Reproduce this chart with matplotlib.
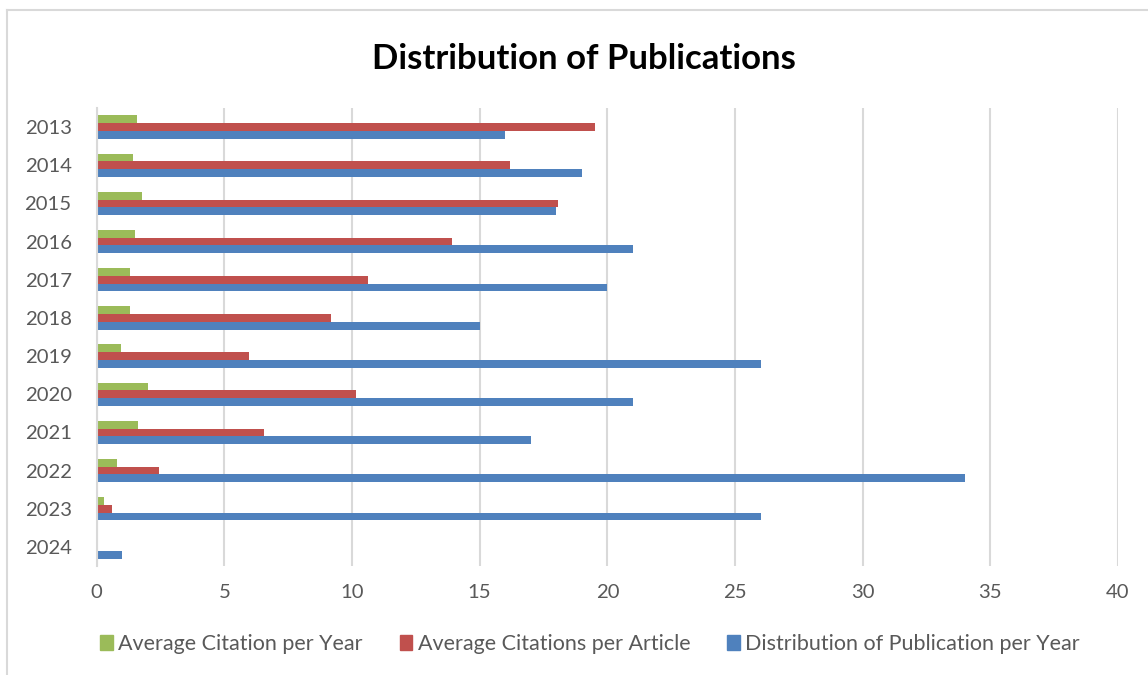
import numpy as np
import matplotlib.pyplot as plt
from matplotlib.patches import Patch
from matplotlib.lines import Line2D

years = ["2013", "2014", "2015", "2016", "2017", "2018",
         "2019", "2020", "2021", "2022", "2023", "2024"]
citation_per_year = [1.59, 1.44, 1.78, 1.51, 1.31, 1.29, 0.97, 2.01, 1.63, 0.78, 0.29, 0]
citations_per_article = [19.51, 16.18, 18.08, 13.91, 10.64, 9.19, 5.95, 10.14, 6.57, 2.44, 0.59, 0]
publications_per_year = [16, 19, 18, 21, 20, 15, 26, 21, 17, 34, 26, 1]

green = "#9BBB59"
red = "#C0504D"
blue = "#4F81BD"
grid_gray = "#D9D9D9"
text_gray = "#595959"

plt.rcParams["font.family"] = ["Lato", "DejaVu Sans"]

fig = plt.figure(figsize=(11.48, 6.75), dpi=100)
ax = fig.add_axes([0.0842, 0.1615, 0.8897, 0.6785])

y = np.arange(len(years))
h = 0.204
ax.barh(y - h, citation_per_year, height=h, color=green, label="Average Citation per Year")
ax.barh(y, citations_per_article, height=h, color=red, label="Average Citations per Article")
ax.barh(y + h, publications_per_year, height=h, color=blue,
        label="Distribution of Publication per Year")

ax.set_xlim(0, 40)
ax.set_ylim(len(years) - 0.5, -0.5)
ax.set_xticks(range(0, 41, 5))
ax.set_yticks(y)
ax.set_yticklabels(years)
ax.tick_params(axis="both", length=0, labelsize=14.6, labelcolor=text_gray)
ax.tick_params(axis="x", pad=13)
ax.tick_params(axis="y", pad=18)

ax.grid(axis="x", color=grid_gray, linewidth=1.5)
ax.set_axisbelow(True)
for side in ["top", "right", "bottom"]:
    ax.spines[side].set_visible(False)
ax.spines["left"].set_color(grid_gray)
ax.spines["left"].set_linewidth(1.5)

fig.text(0.5087, 0.913, "Distribution of Publications", ha="center", va="center",
         fontsize=25, fontweight="bold", color="black")

handles = [Patch(color=green), Patch(color=red), Patch(color=blue)]
labels = ["Average Citation per Year", "Average Citations per Article",
          "Distribution of Publication per Year"]
fig.legend(handles, labels, loc="center", bbox_to_anchor=(0.514, 0.046), ncol=3,
           frameon=False, fontsize=15.5, labelcolor=text_gray, handlelength=0.6,
           handleheight=0.65, handletextpad=0.25, columnspacing=1.7)

# chart frame
fig.add_artist(Line2D([7 / 1148, 1], [1 - 10 / 675, 1 - 10 / 675],
                      transform=fig.transFigure, color=grid_gray, linewidth=1.5))
fig.add_artist(Line2D([7 / 1148, 7 / 1148], [0, 1 - 10 / 675],
                      transform=fig.transFigure, color=grid_gray, linewidth=1.5))

fig.savefig("out.png", dpi=100)
